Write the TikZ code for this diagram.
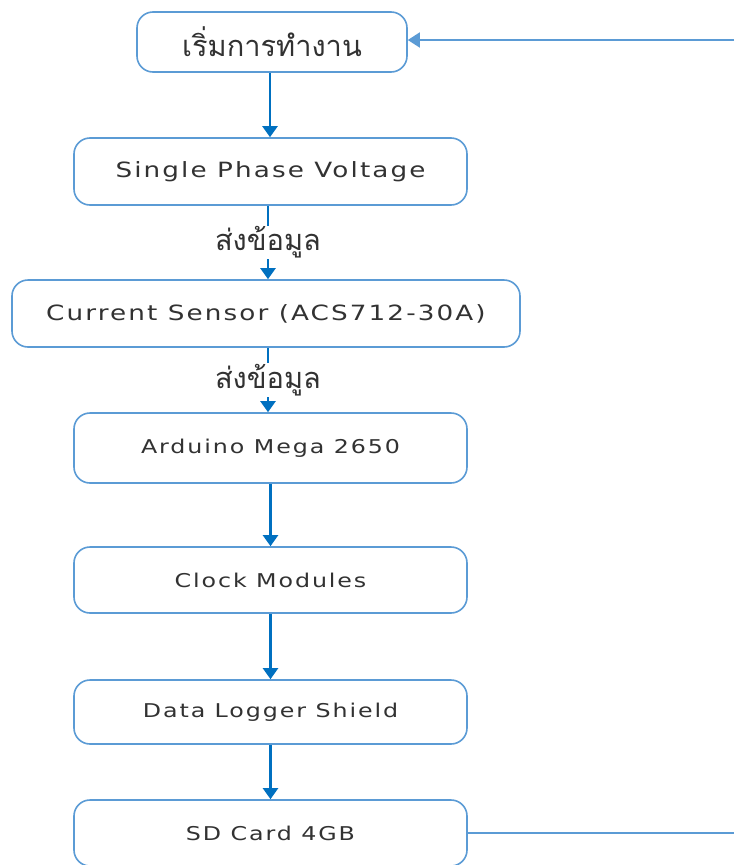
\documentclass[tikz,border=0pt]{standalone}
\usepackage{fontspec}
\usetikzlibrary{arrows.meta}
\setmainfont{DejaVu Sans}
\newfontfamily\latinfont{DejaVu Sans}[FakeStretch=1.25, LetterSpace=10]
\newfontfamily\thaifont[Script=Thai]{Loma}
\definecolor{boxline}{RGB}{91,155,213}
\definecolor{arrowc}{RGB}{0,112,192}
\definecolor{txt}{RGB}{50,50,50}
\tikzset{
  box/.style={draw=boxline, line width=1.6pt, rounded corners=16pt, fill=white, text=txt, inner sep=0pt},
  big/.style={font=\latinfont\fontsize{21}{24}\selectfont},
  small/.style={font=\latinfont\fontsize{19}{22}\selectfont},
  thai/.style={font=\thaifont\fontsize{29}{33}\selectfont},
  conn/.style={draw=arrowc, line width=2.2pt, -{Triangle[width=15pt,length=11pt]}},
  lbl/.style={fill=white, text=txt, inner sep=1pt, thai}
}
\begin{document}
\begin{tikzpicture}[x=1pt,y=-1pt]
\useasboundingbox (0,0) rectangle (734,865);
\clip (0,0) rectangle (734,865);
\node[box, thai, minimum width=270pt, minimum height=60pt] (b1) at (272,42) {เริ่มการทำงาน};
\node[box, big, minimum width=393pt, minimum height=67pt] (b2) at (270.5,171.5) {Single Phase Voltage};
\node[box, big, minimum width=508pt, minimum height=67pt] (b3) at (266,313.5) {Current Sensor (ACS712-30A)};
\node[box, small, minimum width=393pt, minimum height=70pt] (b4) at (270.5,448) {Arduino Mega 2650};
\node[box, small, minimum width=393pt, minimum height=66pt] (b5) at (270.5,580) {Clock Modules};
\node[box, small, minimum width=393pt, minimum height=64pt] (b6) at (270.5,712) {Data Logger Shield};
\node[box, small, minimum width=393pt, minimum height=66pt] (b7) at (270.5,833) {SD Card 4GB};
\coordinate (fbtop) at (734,40);
\coordinate (fbbot) at (734,833);
\draw[conn] (b1.south -| 270,0) -- (b2.north -| 270,0);
\draw[conn] (b2.south -| 268,0) -- node[lbl]{ส่งข้อมูล} (b3.north -| 268,0);
\draw[conn] (b3.south -| 268,0) -- node[lbl]{ส่งข้อมูล} (b4.north -| 268,0);
\draw[conn] (b4) -- (b5);
\draw[conn] (b5) -- (b6);
\draw[conn] (b6) -- (b7);
\draw[draw=boxline, line width=1.6pt] (b7.east) -- (fbbot);
\draw[draw=boxline, line width=1.6pt, -{Triangle[width=15pt,length=12pt]}] (fbtop) -- (b1.east |- fbtop);
\end{tikzpicture}
\end{document}
